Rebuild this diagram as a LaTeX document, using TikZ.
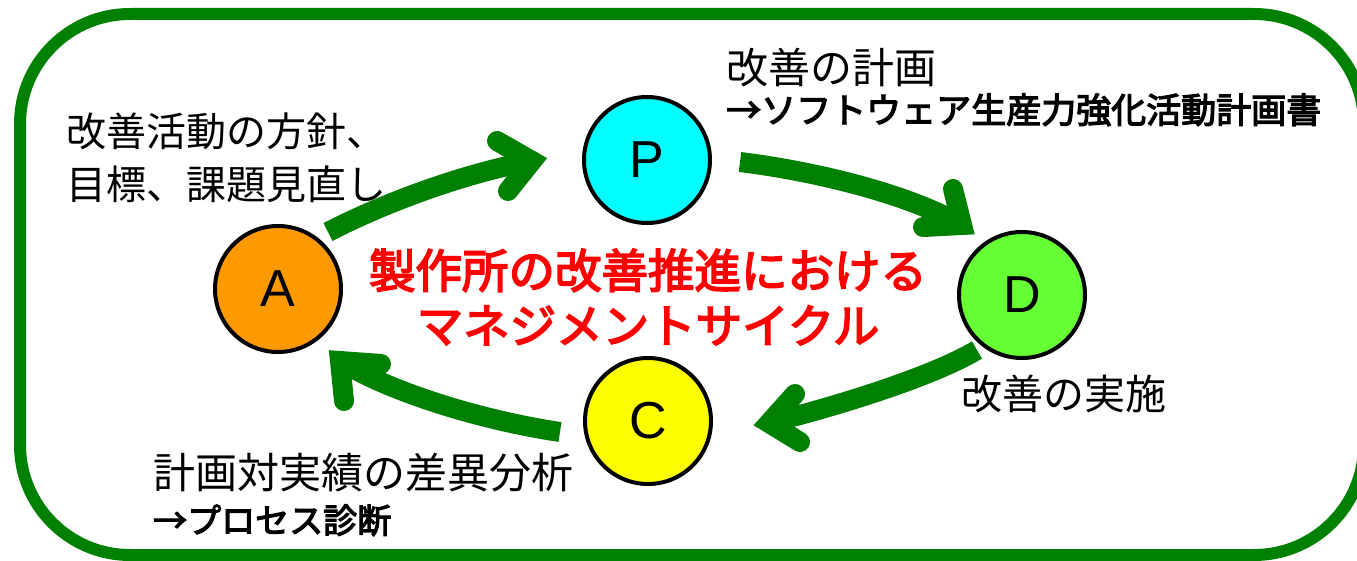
\documentclass[tikz,border=0pt]{standalone}
\usepackage{fontspec}
\setmainfont{Liberation Sans}
\newfontfamily\jp{Noto Sans CJK JP}
\newfontfamily\jpb{Noto Sans CJK JP}[FakeBold=3.5]
\definecolor{arrowgreen}{HTML}{008000}
\definecolor{pcyan}{HTML}{00FFFF}
\definecolor{aorange}{HTML}{FF9900}
\definecolor{dgreen}{HTML}{66FF33}
\definecolor{cyellow}{HTML}{FFFF00}
\definecolor{titlered}{HTML}{FF0000}
\begin{document}
\begin{tikzpicture}[x=1pt,y=-1pt,
  frame/.style={draw=arrowgreen, line width=12pt, rounded corners=110pt},
  stage/.style={circle, draw=black, line width=4pt, minimum size=126pt, inner sep=0pt,
    font=\fontsize{52}{52}\selectfont},
  shaft/.style={draw=arrowgreen, line width=20pt},
  head/.style={draw=arrowgreen, line width=20pt, line join=miter, miter limit=10, line cap=round},
  lbl/.style={anchor=base west, inner sep=0pt, text=black},
  title/.style={anchor=base, inner sep=0pt, text=titlered,
    font=\jpb\fontsize{46.5}{46.5}\selectfont}]
\useasboundingbox (0,0) rectangle (1357,561);
\draw[frame] (20,14) rectangle (1364,555);

% stages
\node[stage, fill=pcyan]   (P) at (647,160) {P};
\node[stage, fill=aorange] (A) at (278,289) {A};
\node[stage, fill=dgreen]  (D) at (1022,295) {D};
\node[stage, fill=cyellow] (C) at (648,421) {C};

% arrow geometry
\coordinate (s1) at (328,232);  \coordinate (v1) at (532,161);
\coordinate (h1a) at (497,141); \coordinate (h1b) at (508,191);
\coordinate (s2) at (740,162);  \coordinate (v2) at (962,225);
\coordinate (h2a) at (953,189); \coordinate (h2b) at (923,227);
\coordinate (s3) at (977,350);  \coordinate (v3) at (769,423);
\coordinate (h3a) at (795,394); \coordinate (h3b) at (800,442);
\coordinate (s4) at (560,432);  \coordinate (v4) at (340,361);
\coordinate (h4a) at (381,364); \coordinate (h4b) at (344,401);

% A -> P
\draw[shaft] (s1) .. controls (390,200) and (470,172) .. (v1);
\draw[head] (h1a) -- (v1) -- (h1b);
% P -> D
\draw[shaft] (s2) .. controls (820,172) and (910,195) .. (v2);
\draw[head] (h2a) -- (v2) -- (h2b);
% D -> C
\draw[shaft] (s3) .. controls (930,378) and (830,408) .. (v3);
\draw[head] (h3a) -- (v3) -- (h3b);
% C -> A
\draw[shaft] (s4) .. controls (480,420) and (390,392) .. (v4);
\draw[head] (h4a) -- (v4) -- (h4b);

% labels
\node[lbl, font=\jp\fontsize{40}{40}\selectfont] (la1) at (66,147) {改善活動の方針、};
\node[lbl, font=\jp\fontsize{40}{40}\selectfont] (la2) at (66,200) {目標、課題見直し};
\node[lbl, font=\jp\fontsize{42}{42}\selectfont] (lp1) at (726,84) {改善の計画};
\node[lbl, font=\jpb\fontsize{35}{35}\selectfont] (lp2) at (726,123) {→ソフトウェア生産力強化活動計画書};
\node[lbl, font=\jp\fontsize{41}{41}\selectfont] (ld1) at (961,409) {改善の実施};
\node[lbl, font=\jp\fontsize{42}{42}\selectfont] (lc1) at (153,488) {計画対実績の差異分析};
\node[lbl, font=\jpb\fontsize{34}{34}\selectfont] (lc2) at (153,533) {→プロセス診断};

\node[title] (t1) at (648,288) {製作所の改善推進における};
\node[title] (t2) at (648,343) {マネジメントサイクル};
\end{tikzpicture}
\end{document}
